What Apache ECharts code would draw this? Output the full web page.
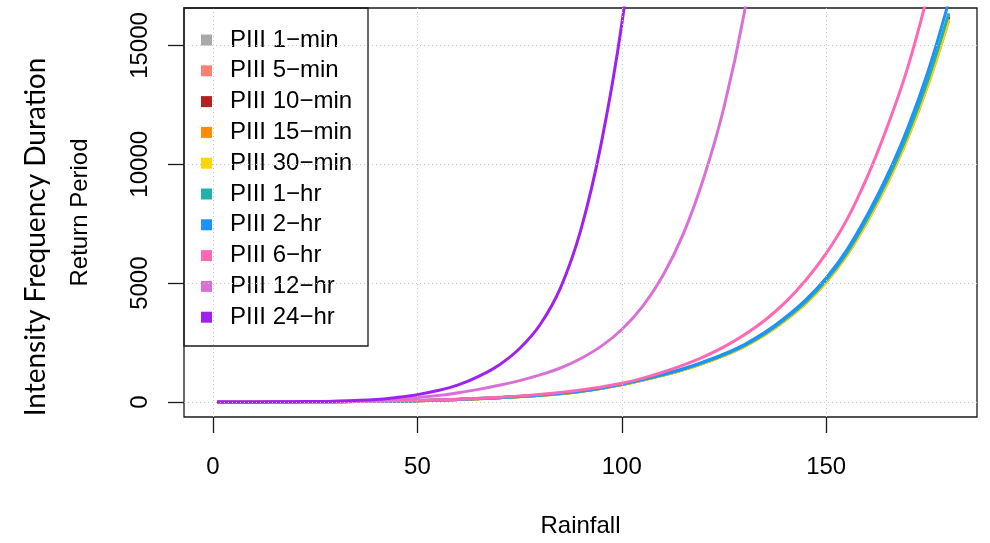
<!DOCTYPE html>
<html>
<head>
<meta charset="utf-8">
<script src="https://cdn.jsdelivr.net/npm/echarts@6/dist/echarts.min.js"></script>
<style>
  html, body { margin: 0; padding: 0; background: #fff; }
  #chart { width: 990px; height: 543px; }
</style>
</head>
<body>
<div id="chart"></div>
<script>
// Rainfall depth (x) against return period (y) for the fitted Pearson III curves.
const xTicks = [0, 50, 100, 150];
const yTicks = [0, 5000, 10000, 15000];

// Shared rainfall grid for the short-duration curves (1-min .. 2-hr)
const rainfallShort = [1, 10, 20, 30, 40, 50, 60, 70, 80, 90,
                       100, 105, 110, 115, 120, 125, 130, 135, 140, 145, 150, 155, 160, 165, 170, 175, 180];
const rp1min  = [1, 2, 6, 14, 27, 54, 107, 182, 283, 448,
                 742, 927, 1132, 1367, 1650, 1972, 2363, 2860, 3475, 4198, 5095, 6228, 7660, 9315, 11240, 13545, 16280];
const rp5min  = [1, 2, 6, 14, 27, 54, 107, 181, 282, 447,
                 741, 926, 1131, 1365, 1648, 1970, 2360, 2857, 3471, 4193, 5090, 6220, 7650, 9300, 11220, 13520, 16250];
const rp10min = [1, 2, 6, 14, 27, 53, 107, 180, 281, 446,
                 739, 924, 1128, 1361, 1643, 1964, 2353, 2848, 3461, 4180, 5075, 6202, 7630, 9275, 11190, 13480, 16200];
const rp15min = [1, 2, 6, 14, 27, 53, 106, 179, 280, 444,
                 733, 917, 1120, 1351, 1631, 1950, 2336, 2828, 3436, 4150, 5040, 6158, 7575, 9210, 11115, 13390, 16060];
const rp30min = [1, 2, 6, 14, 27, 53, 106, 180, 280, 445,
                 735, 919, 1122, 1354, 1634, 1953, 2340, 2833, 3442, 4157, 5048, 6168, 7590, 9230, 11140, 13420, 16100];
const rp1hr   = [1, 2, 6, 14, 27, 54, 108, 182, 285, 450,
                 745, 931, 1137, 1372, 1656, 1980, 2372, 2871, 3489, 4214, 5116, 6252, 7693, 9359, 11290, 13600, 16350];
const rp2hr   = [1, 2, 6, 14, 28, 55, 110, 185, 290, 460,
                 760, 950, 1160, 1400, 1690, 2020, 2420, 2930, 3560, 4300, 5220, 6380, 7850, 9550, 11550, 13950, 16850];

const rainfall6hr = [1, 10, 20, 30, 40, 50, 60, 70, 80, 90,
                     100, 105, 110, 115, 120, 125, 130, 135, 140, 145, 150, 155, 160, 165, 170, 175];
const rp6hr       = [1, 2, 7, 16, 35, 70, 120, 200, 320, 500,
                     790, 995, 1250, 1550, 1900, 2320, 2830, 3440, 4190, 5120, 6250, 7650, 9450, 11600, 14100, 17250];

const rainfall12hr = [1, 10, 20, 30, 40, 50, 55, 60, 65, 70, 75, 80, 85, 90, 95, 100, 105, 110, 115, 120, 125, 130, 135];
const rp12hr       = [1, 3, 10, 28, 75, 190, 270, 390, 530, 700, 900, 1140, 1430, 1830, 2350, 3050, 4000, 5300, 7050, 9400, 12400, 16400, 21700];

const rainfall24hr = [1, 10, 20, 30, 40, 45, 50, 55, 60, 65, 70, 75, 80, 85, 90, 95, 100, 105];
const rp24hr       = [1, 3, 12, 35, 100, 190, 310, 480, 720, 1080, 1560, 2250, 3250, 4800, 7250, 10900, 15900, 22800];

const seriesNames = ['PIII 1\u2212min', 'PIII 5\u2212min', 'PIII 10\u2212min', 'PIII 15\u2212min', 'PIII 30\u2212min',
                     'PIII 1\u2212hr', 'PIII 2\u2212hr', 'PIII 6\u2212hr', 'PIII 12\u2212hr', 'PIII 24\u2212hr'];
const seriesColors = ['#A9A9A9', '#FA8072', '#B22222', '#FF8C00', '#FFD700',
                      '#20B2AA', '#1E90FF', '#FF69B4', '#DA70D6', '#A020F0'];
const seriesX = [rainfallShort, rainfallShort, rainfallShort, rainfallShort, rainfallShort,
                 rainfallShort, rainfallShort, rainfall6hr, rainfall12hr, rainfall24hr];
const seriesY = [rp1min, rp5min, rp10min, rp15min, rp30min, rp1hr, rp2hr, rp6hr, rp12hr, rp24hr];

const FONT = '"Liberation Sans", Arial, Helvetica, sans-serif';

const curveSeries = seriesNames.map((name, i) => ({
  name: name,
  type: 'line',
  data: seriesX[i].map((x, k) => [x, seriesY[i][k]]),
  color: seriesColors[i],
  showSymbol: false,
  symbol: 'none',
  smooth: 0.4,
  clip: true,
  z: 3,
  lineStyle: { width: 3, color: seriesColors[i] }
}));

// dotted reference grid drawn under the curves
const gridSeries = {
  name: 'grid',
  type: 'line',
  data: [],
  z: 1,
  silent: true,
  markLine: {
    silent: true,
    symbol: 'none',
    animation: false,
    label: { show: false },
    lineStyle: { type: [1, 3], color: '#c8c8c8', width: 1 },
    data: xTicks.map(v => ({ xAxis: v })).concat(yTicks.map(v => ({ yAxis: v })))
  }
};

const tickStyle = { color: '#1a1a1a', width: 1.3, type: 'solid' };

const chart = echarts.init(document.getElementById('chart'), null, { renderer: 'canvas' });
chart.setOption({
  animation: false,
  backgroundColor: '#ffffff',
  grid: {
    left: 184, right: 13, top: 8, bottom: 126,
    show: true, borderColor: '#1a1a1a', borderWidth: 1.3,
    containLabel: false, outerBoundsMode: 'none'
  },
  xAxis: {
    type: 'value',
    min: -7.1, max: 186.9,
    axisLine: { show: false, onZero: false },
    axisTick: { show: true, length: 16, customValues: xTicks, lineStyle: tickStyle },
    axisLabel: { customValues: xTicks, margin: 38, fontSize: 24, color: '#000', fontFamily: FONT,
                 formatter: v => String(v) },
    splitLine: { show: false },
    name: 'Rainfall',
    nameLocation: 'middle',
    nameGap: 97,
    nameTextStyle: { fontSize: 24, color: '#000', fontFamily: FONT }
  },
  yAxis: {
    type: 'value',
    min: -632, max: 16576,
    axisLine: { show: false, onZero: false },
    axisTick: { show: true, length: 16, customValues: yTicks, lineStyle: tickStyle },
    axisLabel: { customValues: yTicks, rotate: 90, margin: 32, fontSize: 24, color: '#000', fontFamily: FONT,
                 formatter: v => String(v) },
    splitLine: { show: false },
    name: 'Return Period',
    nameLocation: 'middle',
    nameGap: 92,
    nameTextStyle: { fontSize: 24, color: '#000', fontFamily: FONT }
  },
  legend: {
    data: seriesNames,
    orient: 'vertical',
    left: 201,
    top: 28,
    padding: 0,
    itemGap: 6.8,
    itemWidth: 11,
    itemHeight: 11,
    icon: 'rect',
    selectedMode: false,
    textStyle: { fontSize: 24, lineHeight: 24, color: '#000', fontFamily: FONT, padding: [0, 0, 0, 13] }
  },
  graphic: [
    {
      type: 'rect',
      silent: true,
      shape: { x: 184, y: 8, width: 184, height: 338 },
      style: { fill: 'none', stroke: '#1a1a1a', lineWidth: 1.3 },
      z: 10
    },
    {
      type: 'text',
      x: 36, y: 237,
      rotation: Math.PI / 2,
      silent: true,
      style: {
        text: 'Intensity Frequency Duration',
        font: '28px Lato, "Open Sans", sans-serif',
        fill: '#000',
        textAlign: 'center', textVerticalAlign: 'middle',
        align: 'center', verticalAlign: 'middle'
      }
    }
  ],
  series: [gridSeries].concat(curveSeries)
});
</script>
</body>
</html>
